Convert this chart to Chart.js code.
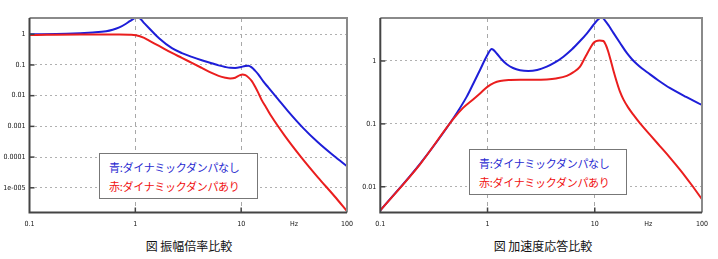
<!DOCTYPE html>
<html>
<head>
<meta charset="utf-8">
<script src="https://cdn.jsdelivr.net/npm/chart.js@4.4.0/dist/chart.umd.min.js"></script>
<style>
  body { margin: 0; background: #fff; width: 718px; height: 259px; overflow: hidden; position: relative; }
  .box { position: absolute; top: 0; height: 232px; }
  .legend { position: absolute; background: #fff; border: 1px solid #777; box-sizing: border-box;
            font-family: "Noto Sans CJK JP", sans-serif; font-size: 11px; letter-spacing: -0.3px;
            line-height: 19px; padding: 4px 0 0 9px; white-space: nowrap; }
  .legend .b { color: #2a2ad0; }
  .legend .r { color: #f01010; }
  .caption { position: absolute; top: 237px; font-family: "Noto Sans CJK JP", sans-serif; font-size: 12px;
             color: #111; transform: translateX(-50%); white-space: nowrap; }
</style>
</head>
<body>
<div class="box" style="left:0;width:360px"><canvas id="ampChart" width="360" height="232"></canvas></div>
<div class="box" style="left:360px;width:358px"><canvas id="accChart" width="358" height="232"></canvas></div>

<div class="legend" style="left:99px;top:153px;width:159px;height:46px">
  <div class="b" id="ampLegB"></div><div class="r" id="ampLegR"></div>
</div>
<div class="legend" style="left:469px;top:149px;width:158px;height:46px">
  <div class="b" id="accLegB"></div><div class="r" id="accLegR"></div>
</div>
<div class="caption" id="ampCaption" style="left:189px"></div>
<div class="caption" id="accCaption" style="left:543px"></div>

<script>
// Text
const LEGEND_BLUE = '青:ダイナミックダンパなし';
const LEGEND_RED = '赤:ダイナミックダンパあり';
const AMP_CAPTION = '図 振幅倍率比較';
const ACC_CAPTION = '図 加速度応答比較';

// Axis ticks (the "Hz" unit label sits at 10^1.5 on the frequency axis)
const HZ_POS = 31.62;
const X_TICKS = [0.1, 1, 10, HZ_POS, 100];
const X_TICK_LABELS = ['0.1', '1', '10', 'Hz', '100'];
const AMP_Y_TICKS = [1, 0.1, 0.01, 0.001, 0.0001, 0.00001];
const AMP_Y_LABELS = ['1', '0.1', '0.01', '0.001', '0.0001', '1e-005'];
const ACC_Y_TICKS = [1, 0.1, 0.01];
const ACC_Y_LABELS = ['1', '0.1', '0.01'];

// Amplitude magnification - without damper (blue)
const ampBlueFreq = [0.1, 0.223, 0.397, 0.53, 0.611, 0.706, 0.816, 0.877, 0.941, 1.013, 1.088, 1.212, 1.35, 1.675,
  2.218, 2.754, 3.42, 4.24, 5.26, 6.12, 7.08, 7.89, 8.79, 9.79, 10.91, 11.7, 12.57, 13.52, 14.52, 16.18, 18.03,
  22.39, 27.8, 38.4, 53.1, 75.0, 100];
const ampBlueVal = [1.0, 1.038, 1.144, 1.252, 1.40, 1.664, 2.195, 2.61, 3.03, 3.52, 3.39, 2.30, 1.567, 0.741,
  0.351, 0.243, 0.184, 0.143, 0.114, 0.0967, 0.0858, 0.0808, 0.0802, 0.0845, 0.0931, 0.0946, 0.0832, 0.0655,
  0.0493, 0.0292, 0.0186, 0.00758, 0.00309, 0.000897, 0.000303, 0.00011, 0.0000502];

// Amplitude magnification - with damper (red)
const ampRedFreq = [0.1, 0.298, 0.706, 0.877, 1.013, 1.212, 1.35, 1.675, 2.218, 2.754, 3.42, 4.24, 5.26, 6.12,
  7.08, 7.89, 8.79, 9.64, 10.28, 10.97, 11.7, 12.57, 13.52, 14.52, 15.6, 17.27, 19.37, 25.86, 37.0, 53.1, 76.2, 100];
const ampRedVal = [0.949, 0.985, 0.985, 0.963, 0.928, 0.758, 0.619, 0.417, 0.246, 0.170, 0.1166, 0.0802, 0.0551,
  0.0441, 0.0385, 0.0365, 0.0385, 0.0457, 0.0493, 0.0464, 0.0394, 0.0303, 0.0198, 0.0123, 0.0073, 0.00407,
  0.00209, 0.000493, 0.0000985, 0.000022, 0.0000053, 0.00000173];

// Acceleration response - without damper (blue)
const accBlueFreq = [0.1, 0.2346, 0.48, 0.64, 0.738, 0.851, 0.996, 1.094, 1.218, 1.357, 1.511, 1.729, 2.01, 2.4,
  2.9, 3.57, 4.26, 5.1, 6.1, 7.29, 8.42, 9.7, 10.73, 11.62, 12.47, 13.59, 14.92, 17.22, 19.89, 22.13, 24.66,
  27.43, 30.56, 38.96, 50.45, 71.1, 100];
const accBlueVal = [0.00421, 0.0232, 0.123, 0.271, 0.439, 0.72, 1.245, 1.55, 1.315, 1.056, 0.886, 0.774, 0.714,
  0.694, 0.72, 0.812, 0.947, 1.17, 1.522, 2.076, 2.73, 3.73, 4.56, 4.94, 4.39, 3.59, 2.8, 1.93, 1.34, 1.076,
  0.896, 0.766, 0.669, 0.494, 0.369, 0.268, 0.2];

// Acceleration response - with damper (red)
const accRedFreq = [0.1, 0.2346, 0.48, 0.591, 0.738, 0.851, 0.996, 1.15, 1.309, 1.622, 2.01, 2.66, 3.57, 4.35,
  5.48, 6.28, 7.29, 8.12, 9.05, 9.64, 10.28, 11.09, 12.03, 12.74, 13.3, 13.89, 14.92, 16.04, 17.22, 18.49, 20.45,
  22.78, 26.46, 32.8, 40.66, 50.45, 62.5, 79.2, 100];
const accRedVal = [0.00421, 0.0228, 0.12, 0.1795, 0.247, 0.305, 0.387, 0.448, 0.481, 0.499, 0.503, 0.503, 0.509,
  0.527, 0.578, 0.657, 0.812, 1.137, 1.59, 1.896, 2.06, 2.115, 2.076, 1.762, 1.441, 1.116, 0.707, 0.464, 0.322,
  0.245, 0.183, 0.1415, 0.102, 0.0669, 0.044, 0.0289, 0.0186, 0.01096, 0.00633];

const BLUE = '#1e1ed8';
const RED = '#ea1e1e';
const TICK_FONT = { family: '"DejaVu Sans Condensed", "DejaVu Sans", sans-serif', size: 7 };

function toPoints(xs, ys) {
  return xs.map((x, i) => ({ x: x, y: ys[i] }));
}

// frame around the plot + short inward tick marks
const framePlugin = {
  id: 'frame',
  afterDatasetsDraw(chart, args, opts) {
    const { ctx, chartArea: a, scales } = chart;
    ctx.save();
    ctx.lineWidth = 2;
    ctx.strokeStyle = '#8a8a8a';
    ctx.beginPath();
    ctx.moveTo(a.left, a.top); ctx.lineTo(a.right, a.top); ctx.lineTo(a.right, a.bottom);
    ctx.stroke();
    ctx.strokeStyle = '#444';
    ctx.beginPath();
    ctx.moveTo(a.left, a.top); ctx.lineTo(a.left, a.bottom); ctx.lineTo(a.right, a.bottom);
    ctx.stroke();
    ctx.lineWidth = 1.5;
    opts.yTicks.forEach(v => {
      const y = scales.y.getPixelForValue(v);
      ctx.beginPath(); ctx.moveTo(a.left, y); ctx.lineTo(a.left + 5, y); ctx.stroke();
    });
    [1, 10].forEach(v => {
      const x = scales.x.getPixelForValue(v);
      ctx.beginPath(); ctx.moveTo(x, a.bottom); ctx.lineTo(x, a.bottom - 5); ctx.stroke();
    });
    ctx.restore();
  }
};

function makeChart(id, cfg) {
  const ctx = document.getElementById(id).getContext('2d');
  return new Chart(ctx, {
    type: 'line',
    data: {
      datasets: [
        { data: toPoints(cfg.blueFreq, cfg.blueVal), borderColor: BLUE, order: 1 },
        { data: toPoints(cfg.redFreq, cfg.redVal), borderColor: RED, order: 0 }
      ]
    },
    options: {
      responsive: false,
      animation: false,
      layout: { padding: { top: 18, right: cfg.padRight, left: 0, bottom: 0 } },
      elements: {
        line: { borderWidth: 2, cubicInterpolationMode: 'monotone', fill: false },
        point: { radius: 0 }
      },
      plugins: {
        legend: { display: false },
        tooltip: { enabled: false },
        frame: { yTicks: cfg.yTicks }
      },
      scales: {
        x: {
          type: 'logarithmic',
          min: 0.1,
          max: 100,
          afterBuildTicks: s => { s.ticks = X_TICKS.map(v => ({ value: v })); },
          afterFit: s => { s.height = 19.5; },
          grid: {
            drawTicks: false,
            color: c => (c.tick && (c.tick.value === 1 || c.tick.value === 10)) ? '#a8a8a8' : 'transparent'
          },
          border: { display: false, dash: [4, 4] },
          ticks: {
            autoSkip: false, maxRotation: 0, padding: 7, color: '#111', font: TICK_FONT,
            callback: (v, i) => X_TICK_LABELS[i]
          }
        },
        y: {
          type: 'logarithmic',
          min: cfg.yMin,
          max: cfg.yMax,
          afterBuildTicks: s => { s.ticks = cfg.yTicks.map(v => ({ value: v })); },
          afterFit: s => { s.width = cfg.yWidth; },
          grid: { drawTicks: false, color: '#b0b0b0' },
          border: { display: false, dash: [2, 3] },
          ticks: {
            autoSkip: false, padding: 4, color: '#111', font: TICK_FONT,
            callback: (v, i) => cfg.yLabels[i]
          }
        }
      }
    },
    plugins: [framePlugin]
  });
}

makeChart('ampChart', {
  blueFreq: ampBlueFreq, blueVal: ampBlueVal, redFreq: ampRedFreq, redVal: ampRedVal,
  yTicks: AMP_Y_TICKS, yLabels: AMP_Y_LABELS, yMin: 1.57e-6, yMax: 3.38, yWidth: 29.5, padRight: 11
});
makeChart('accChart', {
  blueFreq: accBlueFreq, blueVal: accBlueVal, redFreq: accRedFreq, redVal: accRedVal,
  yTicks: ACC_Y_TICKS, yLabels: ACC_Y_LABELS, yMin: 0.0039, yMax: 4.82, yWidth: 20.3, padRight: 16
});

document.getElementById('ampLegB').textContent = LEGEND_BLUE;
document.getElementById('ampLegR').textContent = LEGEND_RED;
document.getElementById('accLegB').textContent = LEGEND_BLUE;
document.getElementById('accLegR').textContent = LEGEND_RED;
document.getElementById('ampCaption').textContent = AMP_CAPTION;
document.getElementById('accCaption').textContent = ACC_CAPTION;
</script>
</body>
</html>
